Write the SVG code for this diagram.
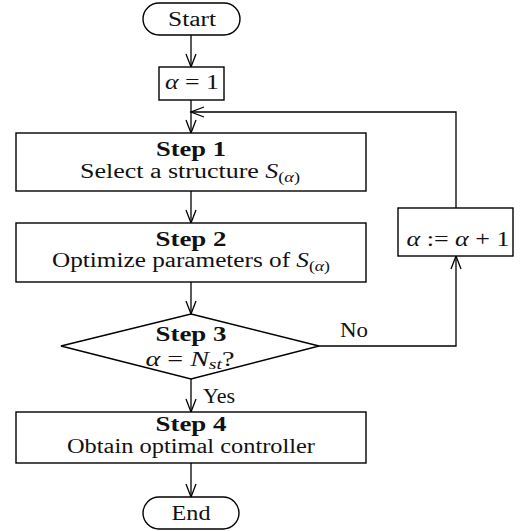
<svg xmlns="http://www.w3.org/2000/svg" width="525" height="531" viewBox="0 0 525 531">
<style>
.shape{fill:#fff;stroke:#000;stroke-width:1.4}
.conn{fill:none;stroke:#000;stroke-width:1.3}
text{font-family:"Liberation Serif","DejaVu Serif",serif;font-size:20px;fill:#111;text-anchor:middle}
.b{font-weight:bold}
.m{font-style:italic}
.s{font-size:14px}
</style>
<defs>
<marker id="arr" markerUnits="userSpaceOnUse" markerWidth="16" markerHeight="12" refX="14" refY="6" orient="auto" viewBox="0 0 16 12">
<path d="M1 1 L14 6 L1 11" fill="none" stroke="#000" stroke-width="1.3"/>
</marker>
</defs>
<g id="connectors">
<path class="conn" d="M191 35 V67" marker-end="url(#arr)"/>
<path class="conn" d="M191 100 V133" marker-end="url(#arr)"/>
<path class="conn" d="M191 191 V223" marker-end="url(#arr)"/>
<path class="conn" d="M191 282 V314" marker-end="url(#arr)"/>
<path class="conn" d="M191 379 V412" marker-end="url(#arr)"/>
<path class="conn" d="M191 463 V497" marker-end="url(#arr)"/>
<path class="conn" d="M319 346 H456 V256" marker-end="url(#arr)"/>
<path class="conn" d="M456 208 V112 H191" marker-end="url(#arr)"/>
<text x="354" y="337" textLength="28" lengthAdjust="spacingAndGlyphs">No</text>
<text x="219" y="403" textLength="32" lengthAdjust="spacingAndGlyphs">Yes</text>
</g>
<g id="start">
<rect class="shape" x="143" y="3" width="97" height="32" rx="16" ry="16"/>
<text x="192" y="26" textLength="48" lengthAdjust="spacingAndGlyphs">Start</text>
</g>
<g id="init">
<rect class="shape" x="159" y="67" width="65" height="33"/>
<text x="192" y="89" textLength="54" lengthAdjust="spacingAndGlyphs"><tspan class="m">α</tspan> = 1</text>
</g>
<g id="step1">
<rect class="shape" x="16" y="133" width="350" height="58"/>
<text class="b" x="191" y="156" textLength="70" lengthAdjust="spacingAndGlyphs">Step 1</text>
<text x="190" y="178" textLength="220" lengthAdjust="spacingAndGlyphs">Select a structure <tspan class="m">S</tspan><tspan class="s" dy="4">(<tspan class="m">α</tspan>)</tspan></text>
</g>
<g id="step2">
<rect class="shape" x="16" y="223" width="350" height="59"/>
<text class="b" x="191" y="246" textLength="71" lengthAdjust="spacingAndGlyphs">Step 2</text>
<text x="191" y="267" textLength="278" lengthAdjust="spacingAndGlyphs">Optimize parameters of <tspan class="m">S</tspan><tspan class="s" dy="4">(<tspan class="m">α</tspan>)</tspan></text>
</g>
<g id="step3">
<polygon class="shape" points="191,314 319,346 191,379 61,346"/>
<text class="b" x="191" y="341" textLength="71" lengthAdjust="spacingAndGlyphs">Step 3</text>
<text x="190" y="366" textLength="89" lengthAdjust="spacingAndGlyphs"><tspan class="m">α</tspan> = <tspan class="m">N</tspan><tspan class="s m" dy="3">st</tspan><tspan dy="-3">?</tspan></text>
</g>
<g id="increment">
<rect class="shape" x="398" y="208" width="115" height="48"/>
<text x="458" y="246" textLength="103" lengthAdjust="spacingAndGlyphs"><tspan class="m">α</tspan> := <tspan class="m">α</tspan> + 1</text>
</g>
<g id="step4">
<rect class="shape" x="16" y="412" width="350" height="51"/>
<text class="b" x="191" y="431" textLength="71" lengthAdjust="spacingAndGlyphs">Step 4</text>
<text x="191" y="453" textLength="248" lengthAdjust="spacingAndGlyphs">Obtain optimal controller</text>
</g>
<g id="end">
<rect class="shape" x="143" y="497" width="96" height="32" rx="16" ry="16"/>
<text x="191" y="520" textLength="39" lengthAdjust="spacingAndGlyphs">End</text>
</g>
</svg>
